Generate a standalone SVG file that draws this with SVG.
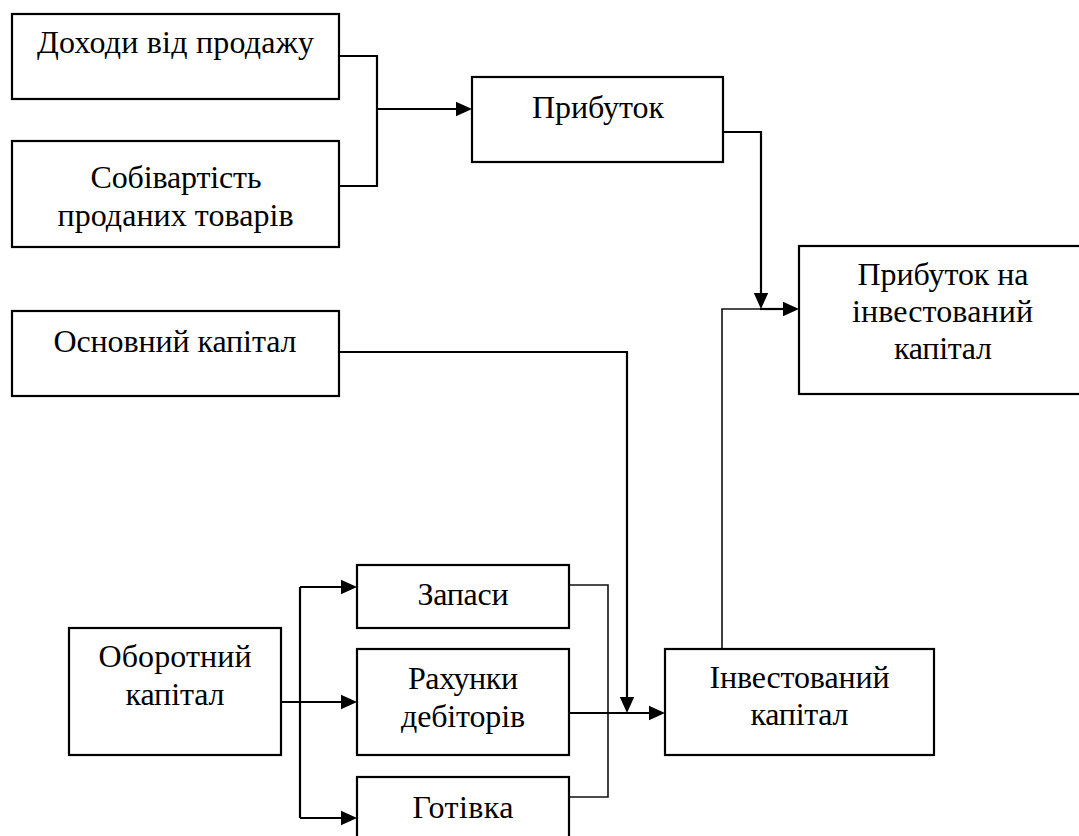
<svg xmlns="http://www.w3.org/2000/svg" width="1079" height="836" viewBox="0 0 1079 836">
  <style>
    .box { fill: #ffffff; stroke: #000000; stroke-width: 2.2; }
    .wire { fill: none; stroke: #000000; stroke-width: 2.2; }
    .thin { fill: none; stroke: #111111; stroke-width: 1.6; }
    .head { fill: #000000; stroke: none; }
  </style>
  <rect width="1079" height="836" fill="#ffffff"/>

  <!-- connectors with their arrowheads -->
  <g id="connectors">
    <path class="wire" d="M339,56 H377 V186 H339"/>
    <path class="wire" d="M377,109 H464"/>
    <polygon class="head" points="456,101.8 472,109 456,116.2"/>
    <path class="wire" d="M723,132 H761 V301"/>
    <polygon class="head" points="753.8,293 761,309 768.2,293"/>
    <path class="thin" d="M722,649 V309 H760"/>
    <path class="wire" d="M760,309 H791"/>
    <polygon class="head" points="783,301.8 799,309 783,316.2"/>
    <path class="wire" d="M339,352 H627 V705"/>
    <polygon class="head" points="619.8,697 627,713 634.2,697"/>
    <path class="wire" d="M281,702 H349"/>
    <polygon class="head" points="341,694.8 357,702 341,709.2"/>
    <path class="wire" d="M300,587 V818"/>
    <path class="wire" d="M300,587 H349"/>
    <polygon class="head" points="341,579.8 357,587 341,594.2"/>
    <path class="wire" d="M300,818 H349"/>
    <polygon class="head" points="341,810.8 357,818 341,825.2"/>
    <path class="thin" d="M569,585 H608 V797 H569"/>
    <path class="wire" d="M569,713 H657"/>
    <polygon class="head" points="649,705.8 665,713 649,720.2"/>
  </g>

  <!-- nodes -->
  <g id="revenue">
    <rect class="box" x="12" y="14" width="327" height="85"/>
    <text x="37" y="53" style="font-family: 'Liberation Serif', serif; font-size: 32px" textLength="277">Доходи від продажу</text>
  </g>
  <g id="cost-of-goods">
    <rect class="box" x="12" y="141" width="327" height="106"/>
    <text x="90.5" y="188" style="font-family: 'Liberation Serif', serif; font-size: 32px" textLength="171">Собівартість</text>
    <text x="57.5" y="226" style="font-family: 'Liberation Serif', serif; font-size: 32px" textLength="236">проданих товарів</text>
  </g>
  <g id="profit">
    <rect class="box" x="472" y="77" width="251" height="85"/>
    <text x="532" y="118" style="font-family: 'Liberation Serif', serif; font-size: 32px" textLength="132">Прибуток</text>
  </g>
  <g id="return-on-investment">
    <rect class="box" x="799" y="246" width="300" height="148"/>
    <text x="857.5" y="285" style="font-family: 'Liberation Serif', serif; font-size: 32px" textLength="171">Прибуток на</text>
    <text x="852" y="322" style="font-family: 'Liberation Serif', serif; font-size: 32px" textLength="181">інвестований</text>
    <text x="894" y="359" style="font-family: 'Liberation Serif', serif; font-size: 32px" textLength="98">капітал</text>
  </g>
  <g id="fixed-capital">
    <rect class="box" x="12" y="311" width="327" height="85"/>
    <text x="53.5" y="352" style="font-family: 'Liberation Serif', serif; font-size: 32px" textLength="243">Основний капітал</text>
  </g>
  <g id="working-capital">
    <rect class="box" x="69" y="628" width="212" height="127"/>
    <text x="98.5" y="667" style="font-family: 'Liberation Serif', serif; font-size: 32px" textLength="153">Оборотний</text>
    <text x="125.5" y="705" style="font-family: 'Liberation Serif', serif; font-size: 32px" textLength="99">капітал</text>
  </g>
  <g id="inventory">
    <rect class="box" x="357" y="565" width="212" height="63"/>
    <text x="417.5" y="605" style="font-family: 'Liberation Serif', serif; font-size: 32px" textLength="91">Запаси</text>
  </g>
  <g id="receivables">
    <rect class="box" x="357" y="649" width="212" height="106"/>
    <text x="408" y="689" style="font-family: 'Liberation Serif', serif; font-size: 32px" textLength="110">Рахунки</text>
    <text x="401" y="727" style="font-family: 'Liberation Serif', serif; font-size: 32px" textLength="124">дебіторів</text>
  </g>
  <g id="cash">
    <rect class="box" x="357" y="777" width="212" height="80"/>
    <text x="412.5" y="818" style="font-family: 'Liberation Serif', serif; font-size: 32px" textLength="101">Готівка</text>
  </g>
  <g id="invested-capital">
    <rect class="box" x="665" y="649" width="269" height="106"/>
    <text x="709.5" y="688" style="font-family: 'Liberation Serif', serif; font-size: 32px" textLength="180">Інвестований</text>
    <text x="750.5" y="725" style="font-family: 'Liberation Serif', serif; font-size: 32px" textLength="98">капітал</text>
  </g>
</svg>
